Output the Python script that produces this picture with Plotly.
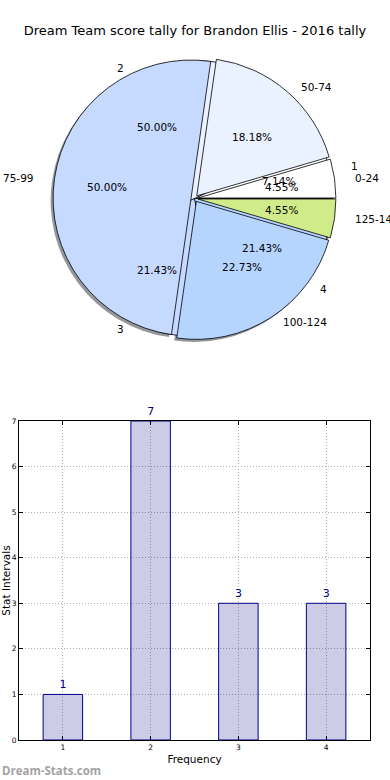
import math
import plotly.graph_objects as go

# ---------------- data ----------------
title_text = "Dream Team score tally for Brandon Ellis - 2016 tally"
score_labels = ["0-24", "50-74", "75-99", "100-124", "125-149"]
score_counts = [1, 4, 11, 5, 1]
freq_labels = ["1", "2", "3", "4"]
freq_counts = [1, 7, 3, 3]
bar_categories = [1, 2, 3, 4]
bar_values = [1, 7, 3, 3]
y_ticks = [0, 1, 2, 3, 4, 5, 6, 7]
pie_colors = ["#ffffff", "#eaf1ff", "#c6d9ff", "#b5d5ff", "#d0eb8a"]

# ---------------- geometry ----------------
W, H = 390, 780
CX, CY = 194.5, 198.5      # pie centre (px)
R = 138                    # pie radius (px)
RX, RY = 144, 132          # text placement radii
PULL = 0.025
TEXT_EXPLODE = 0.013
FONT = "DejaVu Sans"


def dom(cx, cy, half):
    return dict(x=[(cx - half) / W, (cx + half) / W],
                y=[1 - (cy + half) / H, 1 - (cy - half) / H])


def shade(hexcol):
    r, g, b = (int(hexcol[i:i + 2], 16) for i in (1, 3, 5))
    return f"rgba({int(r*0.3)},{int(g*0.3)},{int(b*0.3)},0.55)"


def start_rot(counts):
    # plotly places the first counter-clockwise slice ending at `rotation`;
    # shift so the first slice starts at 3 o'clock like matplotlib
    return 90 - 360 * counts[0] / sum(counts)


fig = go.Figure()

# shadow
fig.add_trace(go.Pie(
    values=score_counts, labels=score_labels, sort=False, direction="counterclockwise",
    rotation=start_rot(score_counts), pull=[PULL] * len(score_counts), textinfo="none",
    hoverinfo="skip",
    marker=dict(colors=[shade(c) for c in pie_colors], line=dict(width=0)),
    domain=dom(CX - 2.5, CY + 2.5, R * (1 + PULL)), showlegend=False))

# frequency pie (underneath)
fig.add_trace(go.Pie(
    values=freq_counts, labels=freq_labels, sort=False, direction="counterclockwise",
    rotation=start_rot(freq_counts), textinfo="none", hoverinfo="skip",
    marker=dict(colors=pie_colors[:len(freq_counts)], line=dict(color="black", width=0.8)),
    domain=dom(CX, CY, R), showlegend=False))

# score pie (on top, exploded)
fig.add_trace(go.Pie(
    values=score_counts, labels=score_labels, sort=False, direction="counterclockwise",
    rotation=start_rot(score_counts), pull=[PULL] * len(score_counts), textinfo="none",
    hoverinfo="skip",
    marker=dict(colors=pie_colors, line=dict(color="black", width=0.8)),
    domain=dom(CX, CY, R * (1 + PULL)), showlegend=False))

annotations = []


def pie_texts(counts, labels, explode):
    total = sum(counts)
    start = 0.0
    for c, lab in zip(counts, labels):
        frac = c / total
        mid = math.radians((start + frac / 2) * 360)
        start += frac
        ca, sa = math.cos(mid), math.sin(mid)
        ox, oy = explode * RX * ca, explode * RY * sa
        px = CX + ox + 0.6 * RX * ca
        py = CY - oy - 0.6 * RY * sa
        annotations.append(dict(x=px / W, y=1 - py / H, xref="paper", yref="paper",
                                text=f"{frac*100:.2f}%", showarrow=False,
                                xanchor="center", yanchor="middle",
                                font=dict(family=FONT, size=10.5, color="black")))
        lx = CX + ox + 1.1 * RX * ca
        ly = CY - oy - 1.1 * RY * sa
        annotations.append(dict(x=lx / W, y=1 - ly / H, xref="paper", yref="paper",
                                text=lab, showarrow=False,
                                xanchor="left" if ca >= 0 else "right", yanchor="middle",
                                font=dict(family=FONT, size=10.5, color="black")))


pie_texts(freq_counts, freq_labels, 0.0)
pie_texts(score_counts, score_labels, TEXT_EXPLODE)

# ---------------- bar chart ----------------
fig.add_trace(go.Bar(
    x=bar_categories, y=bar_values, width=0.45,
    marker=dict(color="rgba(0,0,128,0.2)", line=dict(color="#00008b", width=1)),
    text=[str(v) for v in bar_values], textposition="outside",
    textfont=dict(family=FONT, size=11, color="#00008b"),
    cliponaxis=False, constraintext="none", hoverinfo="skip", showlegend=False,
    xaxis="x", yaxis="y"))

axis_common = dict(showline=True, linecolor="black", linewidth=1, mirror="allticks",
                   ticks="inside", ticklen=4, tickcolor="black",
                   showgrid=True, gridcolor="#b0b0b0", griddash="1px,2px", gridwidth=1,
                   zeroline=False, automargin=False,
                   tickfont=dict(family=FONT, size=7.5, color="black"))

fig.update_layout(
    width=W, height=H, margin=dict(l=0, r=0, t=0, b=0),
    paper_bgcolor="white", plot_bgcolor="white",
    title=dict(text=title_text, x=0.5, xanchor="center", y=1 - 30 / H, yanchor="middle",
               font=dict(family=FONT, size=13, color="black")),
    xaxis=dict(domain=[19 / W, 370 / W], range=[0.5, 4.5], tickvals=bar_categories,
               title=dict(text="Frequency", font=dict(family=FONT, size=10.5, color="black"),
                          standoff=4),
               **axis_common),
    yaxis=dict(domain=[1 - 740 / H, 1 - 421 / H], range=[0, 7], tickvals=y_ticks,
               title=dict(text="Stat Intervals", font=dict(family=FONT, size=10.5, color="black"),
                          standoff=1),
               **axis_common),
    annotations=annotations + [dict(
        x=0, y=1 - 770 / H, xref="paper", yref="paper", text="<b>Dream-Stats.com</b>",
        showarrow=False, xanchor="left", yanchor="middle",
        font=dict(family="Open Sans", size=11.5, color="#a3a3a3"))],
)

fig.write_html("out.html", config={"displayModeBar": False},
               post_script="document.body.style.margin='0';document.body.style.padding='0';")
